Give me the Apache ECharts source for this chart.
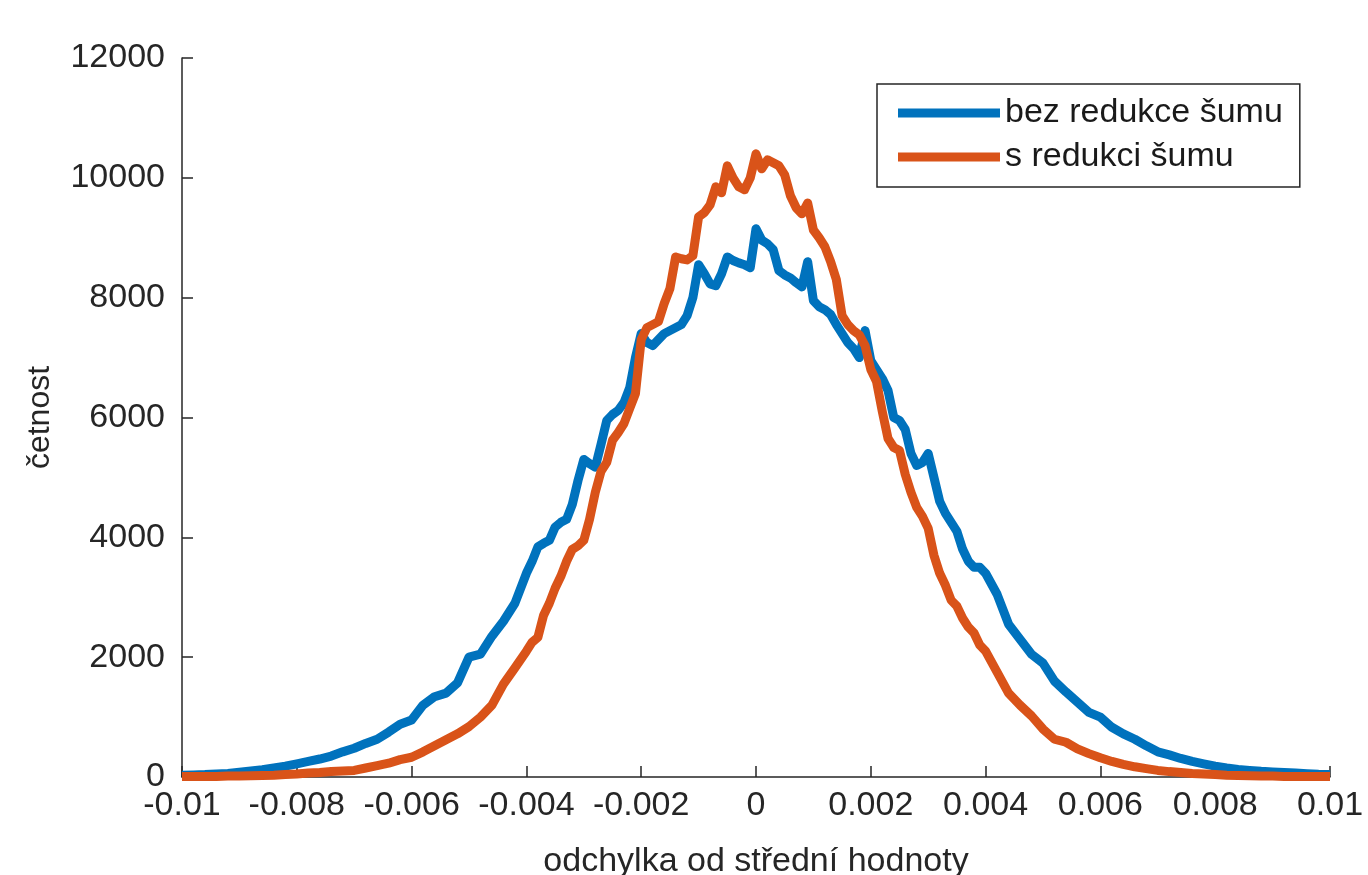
<!DOCTYPE html>
<html>
<head>
<meta charset="utf-8">
<script src="https://cdn.jsdelivr.net/npm/echarts@6/dist/echarts.min.js"></script>
<style>
html,body{margin:0;padding:0;background:#fff;}
#chart{width:1368px;height:875px;}
</style>
</head>
<body>
<div id="chart"></div>
<script>
var xs = [
-0.0100,-0.0098,-0.0096,-0.0094,-0.0092,-0.0090,-0.0088,-0.0086,-0.0084,-0.0082,
-0.0080,-0.0078,-0.0076,-0.0074,-0.0072,-0.0070,-0.0068,-0.0066,-0.0064,-0.0062,
-0.0060,-0.0058,-0.0056,-0.0054,-0.0052,-0.0050,-0.0048,-0.0046,-0.0044,-0.0042,
-0.0040,-0.0039,-0.0038,-0.0037,-0.0036,-0.0035,-0.0034,-0.0033,-0.0032,-0.0031,
-0.0030,-0.0029,-0.0028,-0.0027,-0.0026,-0.0025,-0.0024,-0.0023,-0.0022,-0.0021,
-0.0020,-0.0019,-0.0018,-0.0017,-0.0016,-0.0015,-0.0014,-0.0013,-0.0012,-0.0011,
-0.0010,-0.0009,-0.0008,-0.0007,-0.0006,-0.0005,-0.0004,-0.0003,-0.0002,-0.0001,
0.0000,
0.0001,0.0002,0.0003,0.0004,0.0005,0.0006,0.0007,0.0008,0.0009,0.0010,
0.0011,0.0012,0.0013,0.0014,0.0015,0.0016,0.0017,0.0018,0.0019,0.0020,
0.0021,0.0022,0.0023,0.0024,0.0025,0.0026,0.0027,0.0028,0.0029,0.0030,
0.0031,0.0032,0.0033,0.0034,0.0035,0.0036,0.0037,0.0038,0.0039,0.0040,
0.0042,0.0044,0.0046,0.0048,0.0050,0.0052,0.0054,0.0056,0.0058,0.0060,
0.0062,0.0064,0.0066,0.0068,0.0070,0.0072,0.0074,0.0076,0.0078,0.0080,
0.0082,0.0084,0.0086,0.0088,0.0090,0.0092,0.0094,0.0096,0.0098,0.0100
];

var bezRedukce = [
30,35,40,50,60,80,100,120,150,180,
220,260,300,350,420,480,560,630,750,880,
950,1200,1340,1400,1570,2000,2050,2350,2600,2900,
3400,3600,3840,3900,3950,4170,4250,4300,4550,4950,
5300,5230,5170,5550,5950,6050,6120,6250,6500,7000,
7400,7250,7200,7300,7400,7450,7500,7550,7700,8000,
8550,8400,8230,8200,8400,8680,8620,8580,8550,8500,
9150,
8960,8900,8800,8450,8380,8330,8250,8180,8600,7950,
7850,7800,7720,7550,7400,7250,7150,7000,7450,6950,
6800,6650,6450,6000,5950,5800,5400,5200,5250,5400,
5000,4600,4400,4250,4100,3800,3600,3500,3500,3400,
3050,2550,2300,2050,1900,1600,1420,1250,1080,1000,
830,720,630,520,420,370,310,260,220,180,
150,125,110,95,85,75,65,55,45,40
];

var sRedukci = [
10,10,10,10,15,15,20,25,30,40,
50,65,75,90,100,110,150,190,230,290,
330,420,520,620,720,840,1000,1200,1550,1820,
2100,2250,2330,2700,2900,3150,3350,3600,3800,3860,
3950,4300,4750,5100,5250,5620,5750,5900,6150,6400,
7300,7500,7550,7600,7900,8150,8680,8650,8630,8700,
9350,9420,9550,9850,9750,10200,10000,9850,9800,10000,
10400,
10150,10300,10250,10200,10050,9700,9500,9400,9580,9130,
9000,8850,8600,8300,7700,7550,7450,7380,7200,6800,
6600,6100,5650,5500,5450,5050,4750,4500,4350,4150,
3700,3400,3200,2950,2850,2650,2500,2400,2200,2100,
1750,1400,1200,1020,800,630,580,470,390,320,
260,210,170,140,110,90,75,60,50,40,
30,25,20,15,15,10,10,10,10,10
];

var seriesNames = ['bez redukce šumu', 's redukci šumu'];
var xAxisName = 'odchylka od střední hodnoty';
var yAxisName = 'četnost';

function pairs(ys){ return xs.map(function(x,i){ return [x, ys[i]]; }); }

var textColor = '#262626';
var font = 'Liberation Sans, Arial, Helvetica, sans-serif';

var chart = echarts.init(document.getElementById('chart'), null, {renderer:'canvas'});
chart.setOption({
  animation: false,
  backgroundColor: '#ffffff',
  textStyle: {fontFamily: font},
  grid: {left: 182, right: 38, top: 58, bottom: 98, containLabel: false, outerBoundsMode: 'none'},
  legend: {
    orient: 'vertical',
    left: 877, top: 84,
    padding: [12, 17, 13, 21],
    itemGap: 10,
    itemWidth: 102, itemHeight: 9,
    icon: 'rect',
    borderColor: textColor, borderWidth: 1.5,
    backgroundColor: '#fff',
    textStyle: {fontSize: 34, color: '#1a1a1a', fontFamily: font, lineHeight: 33},
    data: seriesNames
  },
  xAxis: {
    type: 'value', min: -0.01, max: 0.01, interval: 0.002,
    name: xAxisName, nameLocation: 'middle', nameGap: 68,
    nameTextStyle: {fontSize: 34, color: textColor},
    axisLine: {show: true, onZero: false, lineStyle: {color: textColor, width: 1.5}},
    axisTick: {show: true, inside: true, length: 11, lineStyle: {color: textColor, width: 1.5}},
    axisLabel: {fontSize: 34, color: textColor, margin: 12,
      formatter: function(v){ return String(parseFloat(v.toFixed(4))); }},
    splitLine: {show: false}
  },
  yAxis: {
    type: 'value', min: 0, max: 12000, interval: 2000,
    name: yAxisName, nameLocation: 'middle', nameGap: 126, nameRotate: 90,
    nameTextStyle: {fontSize: 32, color: textColor},
    axisLine: {show: true, onZero: false, lineStyle: {color: textColor, width: 1.5}},
    axisTick: {show: true, inside: true, length: 11, lineStyle: {color: textColor, width: 1.5}},
    axisLabel: {fontSize: 34, color: textColor, margin: 17,
      formatter: function(v){ return String(v); }},
    splitLine: {show: false}
  },
  series: [
    {name: seriesNames[0], type: 'line', data: pairs(bezRedukce), showSymbol: false, symbol: 'none',
     lineStyle: {color: '#0072BD', width: 9, join: 'round'}, itemStyle: {color: '#0072BD'}, z: 2},
    {name: seriesNames[1], type: 'line', data: pairs(sRedukci), showSymbol: false, symbol: 'none',
     lineStyle: {color: '#D95319', width: 9, join: 'round'}, itemStyle: {color: '#D95319'}, z: 3}
  ]
});
</script>
</body>
</html>
